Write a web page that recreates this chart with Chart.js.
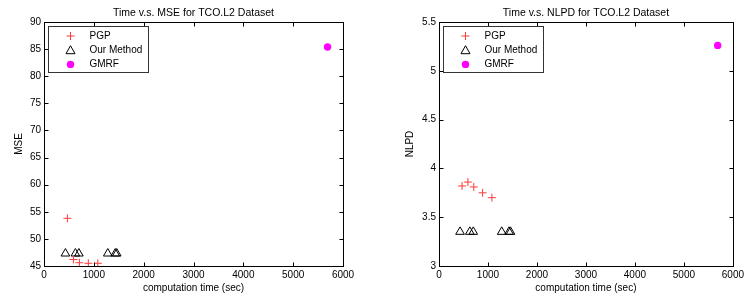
<!DOCTYPE html>
<html>
<head>
<meta charset="utf-8">
<script src="https://cdn.jsdelivr.net/npm/chart.js@4.4.0/dist/chart.umd.min.js"></script>
<style>
    body { margin: 0; background: #fff; }
    #mseChart { position: absolute; left: 0; top: 0; }
    #nlpdChart { position: absolute; left: 373px; top: 0; }
</style>
</head>
<body>
<canvas id="mseChart" width="373" height="299"></canvas>
<canvas id="nlpdChart" width="374" height="299"></canvas>
<script>
// data
const seriesNames = ['PGP', 'Our Method', 'GMRF'];
const timeTicks = [0, 1000, 2000, 3000, 4000, 5000, 6000];
const mseTicks = [45, 50, 55, 60, 65, 70, 75, 80, 85, 90];
const nlpdTicks = [3, 3.5, 4, 4.5, 5, 5.5];

const pgpTime = [470, 590, 710, 890, 1080];
const pgpMse = [53.8, 46.2, 45.6, 45.5, 45.5];
const pgpNlpd = [3.82, 3.86, 3.81, 3.75, 3.70];

const oursTime = [430, 630, 700, 1280, 1430, 1460];
const oursMse = [47.3, 47.3, 47.3, 47.3, 47.3, 47.3];
const oursNlpd = [3.35, 3.35, 3.35, 3.35, 3.35, 3.35];

const gmrfTime = [5690];
const gmrfMse = [85.4];
const gmrfNlpd = [5.26];

Chart.defaults.font.family = '"Liberation Sans", Arial, Helvetica, sans-serif';
Chart.defaults.font.size = 10;
Chart.defaults.color = '#000';

function points(xs, ys) {
    const out = [];
    for (let i = 0; i < xs.length; i++) {
        out.push({ x: xs[i], y: ys[i] });
    }
    return out;
}

// matlab style box, inward ticks and legend
const matlabFrame = {
    id: 'matlabFrame',
    afterDraw(chart) {
        const ctx = chart.ctx;
        const a = chart.chartArea;
        const xs = chart.scales.x;
        const ys = chart.scales.y;
        const L = Math.round(a.left) + 0.5, R = Math.round(a.right) + 0.5;
        const T = Math.round(a.top) + 0.5, B = Math.round(a.bottom) + 0.5;
        ctx.save();
        ctx.strokeStyle = '#000';
        ctx.lineWidth = 1;
        ctx.beginPath();
        xs.ticks.forEach(t => {
            const px = Math.round(xs.getPixelForValue(t.value)) + 0.5;
            ctx.moveTo(px, B); ctx.lineTo(px, B - 4);
            ctx.moveTo(px, T); ctx.lineTo(px, T + 4);
        });
        ys.ticks.forEach(t => {
            const py = Math.round(ys.getPixelForValue(t.value)) + 0.5;
            ctx.moveTo(L, py); ctx.lineTo(L + 4, py);
            ctx.moveTo(R, py); ctx.lineTo(R - 4, py);
        });
        ctx.stroke();
        ctx.strokeRect(L, T, R - L, B - T);

        // legend
        const bx = L + 4, by = T + 4, bw = 100, bh = 46;
        ctx.fillStyle = '#fff';
        ctx.fillRect(bx, by, bw, bh);
        ctx.strokeStyle = '#333';
        ctx.strokeRect(bx, by, bw, bh);
        ctx.font = '10px "Liberation Sans", Arial, sans-serif';
        ctx.textBaseline = 'middle';
        chart.data.datasets.forEach((ds, i) => {
            const my = by + 9.5 + i * 14.2;
            const mx = bx + 22;
            ctx.lineWidth = 1;
            ctx.strokeStyle = ds.borderColor;
            ctx.fillStyle = ds.backgroundColor;
            ctx.beginPath();
            if (ds.pointStyle === 'cross') {
                ctx.moveTo(mx - 4, my); ctx.lineTo(mx + 4, my);
                ctx.moveTo(mx, my - 4); ctx.lineTo(mx, my + 4);
                ctx.stroke();
            } else if (ds.pointStyle === 'triangle') {
                ctx.moveTo(mx, my - 4.5); ctx.lineTo(mx + 4.5, my + 3.5); ctx.lineTo(mx - 4.5, my + 3.5);
                ctx.closePath();
                ctx.stroke();
            } else {
                ctx.arc(mx, my, ds.pointRadius, 0, Math.PI * 2);
                ctx.fill();
            }
            ctx.fillStyle = '#000';
            ctx.fillText(ds.label, bx + 41, my);
        });
        ctx.restore();
    }
};

function makeChart(id, title, yLabel, yTicks, pgpY, oursY, gmrfY, yWidth, yTitlePad, rightPad) {
    const ctx = document.getElementById(id).getContext('2d');
    return new Chart(ctx, {
        type: 'scatter',
        data: {
            datasets: [
                {
                    label: seriesNames[0],
                    data: points(pgpTime, pgpY),
                    pointStyle: 'cross',
                    pointRadius: 4,
                    borderColor: '#ff3b3b',
                    backgroundColor: '#ff3b3b',
                    pointBorderWidth: 1
                },
                {
                    label: seriesNames[1],
                    data: points(oursTime, oursY),
                    pointStyle: 'triangle',
                    pointRadius: 5,
                    borderColor: '#000',
                    backgroundColor: 'rgba(0,0,0,0)',
                    pointBorderWidth: 1
                },
                {
                    label: seriesNames[2],
                    data: points(gmrfTime, gmrfY),
                    pointStyle: 'circle',
                    pointRadius: 3.7,
                    borderColor: '#ff00ff',
                    backgroundColor: '#ff00ff',
                    pointBorderWidth: 0
                }
            ]
        },
        options: {
            responsive: false,
            animation: false,
            layout: {
                padding: { left: 0, right: rightPad, top: 0, bottom: 0 }
            },
            plugins: {
                legend: { display: false },
                tooltip: { enabled: false },
                title: {
                    display: true,
                    fullSize: false,
                    text: title,
                    color: '#000',
                    font: { size: 10.5, weight: 'normal' },
                    padding: { top: 7, bottom: 2.4 }
                }
            },
            scales: {
                x: {
                    type: 'linear',
                    min: 0,
                    max: 6000,
                    afterBuildTicks: (scale) => { scale.ticks = timeTicks.map(v => ({ value: v })); },
                    afterFit: (scale) => { scale.height = 33; },
                    ticks: {
                        padding: 3,
                        color: '#000',
                        maxRotation: 0,
                        callback: (v) => String(v)
                    },
                    grid: { display: false, drawTicks: false },
                    border: { display: false },
                    title: {
                        display: true,
                        text: 'computation time (sec)',
                        color: '#000',
                        font: { size: 10 },
                        padding: { top: 0, bottom: 5 }
                    }
                },
                y: {
                    type: 'linear',
                    min: yTicks[0],
                    max: yTicks[yTicks.length - 1],
                    afterBuildTicks: (scale) => { scale.ticks = yTicks.map(v => ({ value: v })); },
                    afterFit: (scale) => { scale.width = yWidth; },
                    ticks: {
                        padding: 3,
                        color: '#000',
                        callback: (v) => String(v)
                    },
                    grid: { display: false, drawTicks: false },
                    border: { display: false },
                    title: {
                        display: true,
                        text: yLabel,
                        color: '#000',
                        font: { size: 10 },
                        padding: { top: yTitlePad, bottom: 0 }
                    }
                }
            }
        },
        plugins: [matlabFrame]
    });
}

makeChart('mseChart', 'Time v.s. MSE for TCO.L2 Dataset', 'MSE', mseTicks, pgpMse, oursMse, gmrfMse, 44, 13, 30);
makeChart('nlpdChart', 'Time v.s. NLPD for TCO.L2 Dataset', 'NLPD', nlpdTicks, pgpNlpd, oursNlpd, gmrfNlpd, 66, 31, 11);
</script>
</body>
</html>
